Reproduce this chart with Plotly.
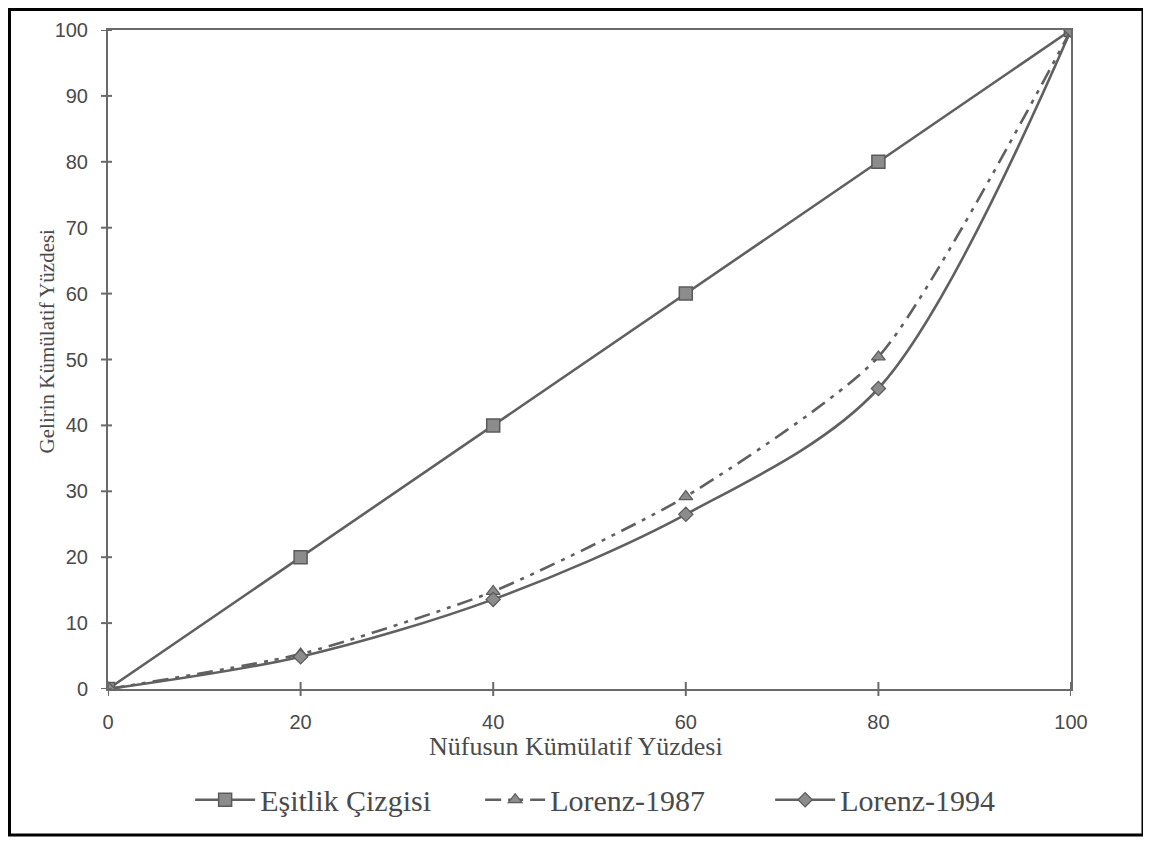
import plotly.graph_objects as go

x_vals = [0, 20, 40, 60, 80, 100]
esitlik = [0, 20, 40, 60, 80, 100]
lorenz_1987 = [0, 5.3, 14.8, 29.2, 50.4, 100]
lorenz_1994 = [0, 4.9, 13.6, 26.5, 45.6, 100]
x_ticks = [0, 20, 40, 60, 80, 100]
y_ticks = [0, 10, 20, 30, 40, 50, 60, 70, 80, 90, 100]
x_title = "Nüfusun Kümülatif Yüzdesi"
y_title = "Gelirin Kümülatif Yüzdesi"

LINE = "#606060"
AX = "#6a6a6a"
TXT = "#4a4a4a"
PLOT_W, PLOT_H = 963, 659
ML, MT = 100, 22

fig = go.Figure()
fig.add_trace(go.Scatter(
    x=x_vals, y=esitlik, name="Eşitlik Çizgisi", mode="lines+markers",
    line=dict(color=LINE, width=2.6),
    marker=dict(symbol="square", size=13, color="#8c8c8c", line=dict(color="#5a5a5a", width=1.5)),
))
fig.add_trace(go.Scatter(
    x=x_vals, y=lorenz_1987, name="Lorenz-1987", mode="lines+markers",
    line=dict(color=LINE, width=2.6, dash="16px,7px,4px,7px,4px,7px", shape="spline", smoothing=0.6),
    marker=dict(symbol="triangle-up", size=12, color="#8c8c8c", line=dict(color="#5a5a5a", width=1.2)),
))
fig.add_trace(go.Scatter(
    x=x_vals, y=lorenz_1994, name="Lorenz-1994", mode="lines+markers",
    line=dict(color=LINE, width=2.6, shape="spline", smoothing=0.9),
    marker=dict(symbol="diamond", size=11, color="#8c8c8c", line=dict(color="#5a5a5a", width=1.2)),
))

tickfont = dict(family="Liberation Sans, Arial", size=20, color=TXT)
serif = "Liberation Serif, Times New Roman"

# crossing tick marks (part inside the plot) derived from the tick lists
shapes = []
for t in x_ticks:
    shapes.append(dict(type="line", xref="x", yref="paper", x0=t, x1=t,
                       y0=-7 / PLOT_H, y1=7 / PLOT_H, line=dict(color=AX, width=2)))
for t in y_ticks:
    shapes.append(dict(type="line", xref="paper", yref="y", y0=t, y1=t,
                       x0=-7 / PLOT_W, x1=4 / PLOT_W, line=dict(color=AX, width=2)))
# outer frame
shapes.append(dict(type="rect", xref="paper", yref="paper",
                   x0=(1.5 - ML) / PLOT_W, x1=(1135 - ML) / PLOT_W,
                   y0=(MT + PLOT_H - 827) / PLOT_H, y1=(MT + PLOT_H - 1.5) / PLOT_H,
                   line=dict(color="black", width=3)))

annotations = [
    dict(text=x_title, xref="paper", yref="paper", x=0.486, y=-0.0865,
         xanchor="center", yanchor="middle", showarrow=False,
         font=dict(family=serif, size=26, color=TXT)),
    dict(text=y_title, xref="paper", yref="paper", x=-0.063, y=0.528,
         xanchor="center", yanchor="middle", showarrow=False, textangle=-90,
         font=dict(family=serif, size=21, color=TXT)),
]

fig.update_layout(
    width=1151, height=843,
    margin=dict(l=ML, r=1151 - ML - PLOT_W, t=MT, b=843 - MT - PLOT_H, autoexpand=False),
    paper_bgcolor="white", plot_bgcolor="white",
    showlegend=True,
    legend=dict(orientation="h", x=0.537, xanchor="center", y=-0.168, yanchor="middle",
                font=dict(family=serif, size=30, color=TXT),
                entrywidth=215, itemwidth=60),
    xaxis=dict(range=[0, 100], tickvals=x_ticks, ticks="", ticklabelstandoff=14,
               showline=True, linecolor=AX, linewidth=2, mirror=True,
               showgrid=False, zeroline=False, tickfont=tickfont),
    yaxis=dict(range=[0, 100], tickvals=y_ticks, ticks="", ticklabelstandoff=14,
               showline=True, linecolor=AX, linewidth=2, mirror=True,
               showgrid=False, zeroline=False, tickfont=tickfont),
    shapes=shapes,
    annotations=annotations,
)

fig.write_html("out.html", config={"displayModeBar": False})
